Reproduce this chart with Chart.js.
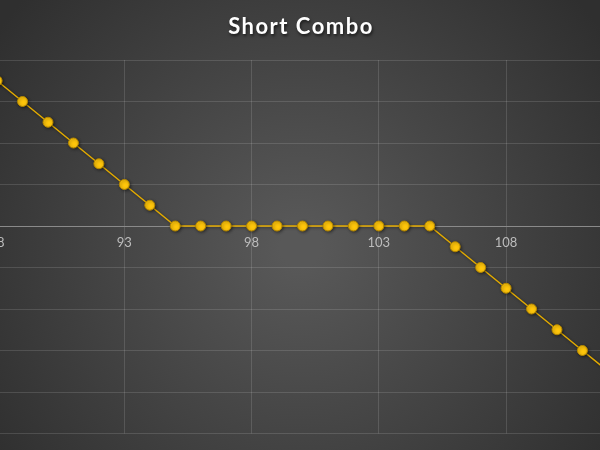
<!DOCTYPE html>
<html>
<head>
<meta charset="utf-8">
<script src="https://cdn.jsdelivr.net/npm/chart.js@4/dist/chart.umd.min.js"></script>
<style>
  html, body { margin: 0; padding: 0; background: #3a3a3a; }
  #wrap { width: 600px; height: 450px; }
</style>
</head>
<body>
<div id="wrap"><canvas id="comboChart"></canvas></div>
<script>
// underlying price at expiry
const strikes = [88, 89, 90, 91, 92, 93, 94, 95, 96, 97, 98, 99, 100, 101, 102, 103, 104, 105, 106, 107, 108, 109, 110, 111, 112];
// profit / loss of the short combo
const payoff = [7, 6, 5, 4, 3, 2, 1, 0, 0, 0, 0, 0, 0, 0, 0, 0, 0, 0, -1, -2, -3, -4, -5, -6, -7];
const xTicks = [88, 93, 98, 103, 108];
const chartTitle = 'Short Combo';

// dark radial background + title with a soft shadow
const backdrop = {
    id: 'backdrop',
    beforeDraw: function (chart) {
        var ctx = chart.ctx;
        var w = chart.width, h = chart.height;
        var g = ctx.createRadialGradient(w / 2, h * 0.55, 20, w / 2, h * 0.55, w * 0.62);
        g.addColorStop(0, '#585858');
        g.addColorStop(1, '#2f2f2f');
        ctx.save();
        ctx.fillStyle = g;
        ctx.fillRect(0, 0, w, h);
        ctx.restore();
    },
    afterDraw: function (chart) {
        var ctx = chart.ctx;
        ctx.save();
        ctx.font = 'bold 22px Lato';
        ctx.textAlign = 'center';
        ctx.textBaseline = 'middle';
        ctx.shadowColor = 'rgba(0,0,0,0.6)';
        ctx.shadowBlur = 3;
        ctx.shadowOffsetX = 1;
        ctx.shadowOffsetY = 2;
        ctx.fillStyle = '#ffffff';
        if ('letterSpacing' in ctx) ctx.letterSpacing = '1.5px';
        ctx.fillText(chartTitle, chart.width / 2 + 1, 27);
        ctx.restore();
    }
};

// shadow under the line and markers
const markerShadow = {
    id: 'markerShadow',
    beforeDatasetsDraw: function (chart) {
        var ctx = chart.ctx;
        ctx.save();
        ctx.shadowColor = 'rgba(0,0,0,0.45)';
        ctx.shadowBlur = 3;
        ctx.shadowOffsetX = 1;
        ctx.shadowOffsetY = 1;
    },
    afterDatasetsDraw: function (chart) {
        chart.ctx.restore();
    }
};

let comboCanvas = document.getElementById('comboChart');
let comboChart = new Chart(comboCanvas, {
    type: 'line',
    data: {
        datasets: [{
            label: chartTitle,
            data: strikes.map(function (s, i) { return { x: s, y: payoff[i] }; }),
            borderColor: '#e3ab00',
            borderWidth: 1.5,
            backgroundColor: '#ffc60b',
            pointBackgroundColor: '#ffc60b',
            pointBorderColor: '#b58700',
            pointBorderWidth: 1,
            pointRadius: 5,
            tension: 0,
            clip: false
        }]
    },
    options: {
        responsive: true,
        maintainAspectRatio: false,
        animation: false,
        layout: {
            autoPadding: false,
            padding: { top: 60, bottom: 16.5, left: 0, right: 0 }
        },
        plugins: {
            legend: { display: false },
            title: { display: false },
            tooltip: { enabled: false }
        },
        scales: {
            x: {
                type: 'linear',
                position: { y: 0 },
                min: 88.114,
                max: 111.69,
                afterBuildTicks: function (axis) {
                    axis.ticks = xTicks.map(function (v) { return { value: v }; });
                },
                // the plot is cropped at the edges, so the first label may hang off the canvas
                afterFit: function (axis) {
                    axis.paddingLeft = 0;
                    axis.paddingRight = 0;
                },
                ticks: {
                    autoSkip: false,
                    maxRotation: 0,
                    color: '#bdbdbd',
                    padding: 9,
                    font: { family: 'Lato', size: 13 }
                },
                grid: {
                    color: 'rgba(255,255,255,0.13)',
                    lineWidth: 1,
                    drawTicks: false
                },
                border: { display: true, color: '#8a8a8a', width: 1 }
            },
            y: {
                type: 'linear',
                min: -10,
                max: 8,
                ticks: { display: false, stepSize: 2 },
                grid: {
                    color: function (c) {
                        return c.tick && c.tick.value === 0 ? '#8a8a8a' : 'rgba(255,255,255,0.13)';
                    },
                    lineWidth: 1,
                    drawTicks: false
                },
                border: { display: false }
            }
        }
    },
    plugins: [backdrop, markerShadow]
});
</script>
</body>
</html>
